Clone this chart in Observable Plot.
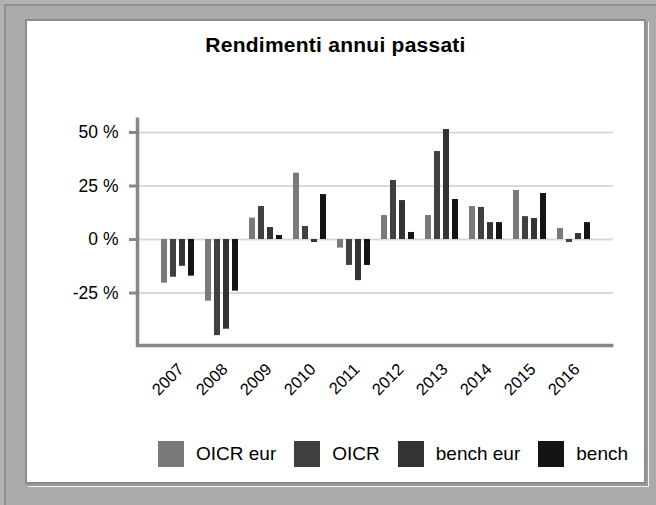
<!DOCTYPE html>
<html><head><meta charset="utf-8">
<script src="https://cdn.jsdelivr.net/npm/d3@7"></script>
<script src="https://cdn.jsdelivr.net/npm/@observablehq/plot@0.6"></script>
<style>
html,body{margin:0;padding:0;width:656px;height:505px;overflow:hidden;background:#b2b2b2;font-family:"Liberation Sans",Arial,sans-serif;}
#frame{position:absolute;left:4px;top:4px;width:650px;height:499px;background:#aaa;border-top:2px solid #8f8f8f;border-left:2px solid #8f8f8f;}
#panel{position:absolute;left:25px;top:19px;width:617px;height:461px;background:#fff;border:2px solid #8c8c8c;box-shadow:2px 2px 0 0 #9a9a9a,3px 3px 0 0 #f4f4f4;}
#chart{position:absolute;left:0;top:0;}
#title{position:absolute;left:25px;width:621px;top:34px;text-align:center;font-weight:bold;font-size:21px;line-height:21px;color:#000;letter-spacing:0.25px;}
#legend{position:absolute;left:158px;top:441px;display:flex;align-items:center;font-size:19px;line-height:26px;color:#000;}
.item{display:flex;align-items:center;margin-right:18px;}
.sw{width:26px;height:26px;margin-right:12px;}
</style></head>
<body>
<div id="frame"></div>
<div id="panel"></div>
<div id="chart"></div>
<div id="title">Rendimenti annui passati</div>
<div id="legend"></div>
<script>
const years = ["2007","2008","2009","2010","2011","2012","2013","2014","2015","2016"];
const seriesNames = ["OICR eur","OICR","bench eur","bench"];
const seriesColors = ["#7a7a7a","#404040","#333333","#141414"];
const oicrEur = [-20.4,-28.8,10.0,31.0,-4.0,11.2,11.2,15.4,22.9,5.1];
const oicr = [-17.6,-44.9,15.4,6.1,-12.1,27.6,41.1,15.0,10.7,-1.4];
const benchEur = [-12.5,-41.9,5.6,-1.4,-19.2,18.2,51.4,7.9,9.8,2.8];
const bench = [-17.1,-24.1,1.9,21.0,-12.1,3.3,18.7,7.9,21.5,7.9];
const yTicks = [-25,0,25,50];
const yDomain = [-49.5,57];

const seriesValues = [oicrEur, oicr, benchEur, bench];
const rows = seriesNames.map((s,i)=>years.map((y,j)=>({year:y, series:s, value:seriesValues[i][j]})));

const W = 656, H = 420, mL = 137, mR = 43, mT = 117, mB = 75;
const pIn = 0.25, pOut = 0.534;
const xb = d3.scaleBand(years,[mL, W-mR]).paddingInner(pIn).paddingOuter(pOut);
const groupW = xb.bandwidth();
const sb = d3.scaleBand(seriesNames,[0,groupW]).paddingInner(1/3);

const bars = seriesNames.map((s,i)=>Plot.barY(rows[i],{
  x:"year", y:"value", fill: seriesColors[i],
  insetLeft: sb(s), insetRight: groupW - sb(s) - sb.bandwidth()
}));

// left + bottom axis lines drawn by the frame (top and right edges dashed out)
const fw = W - mL - mR, fh = H - mT - mB;

const chart = Plot.plot({
  width: W, height: H,
  marginLeft: mL, marginRight: mR, marginTop: mT, marginBottom: mB,
  style:{background:"transparent", fontFamily:"'Liberation Sans',Arial,sans-serif", fontSize:"16px", color:"#000", overflow:"visible"},
  x:{domain: years, paddingInner: pIn, paddingOuter: pOut, label: null},
  y:{domain: yDomain, label: null},
  marks:[
    Plot.gridY(yTicks,{stroke:"#d9d9d9", strokeOpacity:1, strokeWidth:2}),
    ...bars,
    Plot.frame({stroke:"#888", strokeWidth:3.5, fill:"none", strokeDasharray:`0 ${fw+fh} ${fw+fh} 0`}),
    Plot.axisY(yTicks,{label:null, tickSize:8, tickPadding:11, stroke:"#888", strokeWidth:3, fill:"#000", fontSize:17.5, tickFormat:d=>`${d} %`}),
    Plot.axisX({label:null, tickRotate:-45, tickSize:0, tickPadding:21, dx:3, fill:"#000", fontSize:16.5})
  ]
});
document.getElementById("chart").appendChild(chart);

const legend = document.getElementById("legend");
seriesNames.forEach((s,i)=>{
  const it = document.createElement("div"); it.className="item";
  const sw = document.createElement("div"); sw.className="sw"; sw.style.background=seriesColors[i];
  const tx = document.createElement("span"); tx.textContent=s;
  it.appendChild(sw); it.appendChild(tx); legend.appendChild(it);
});
</script>
</body></html>
